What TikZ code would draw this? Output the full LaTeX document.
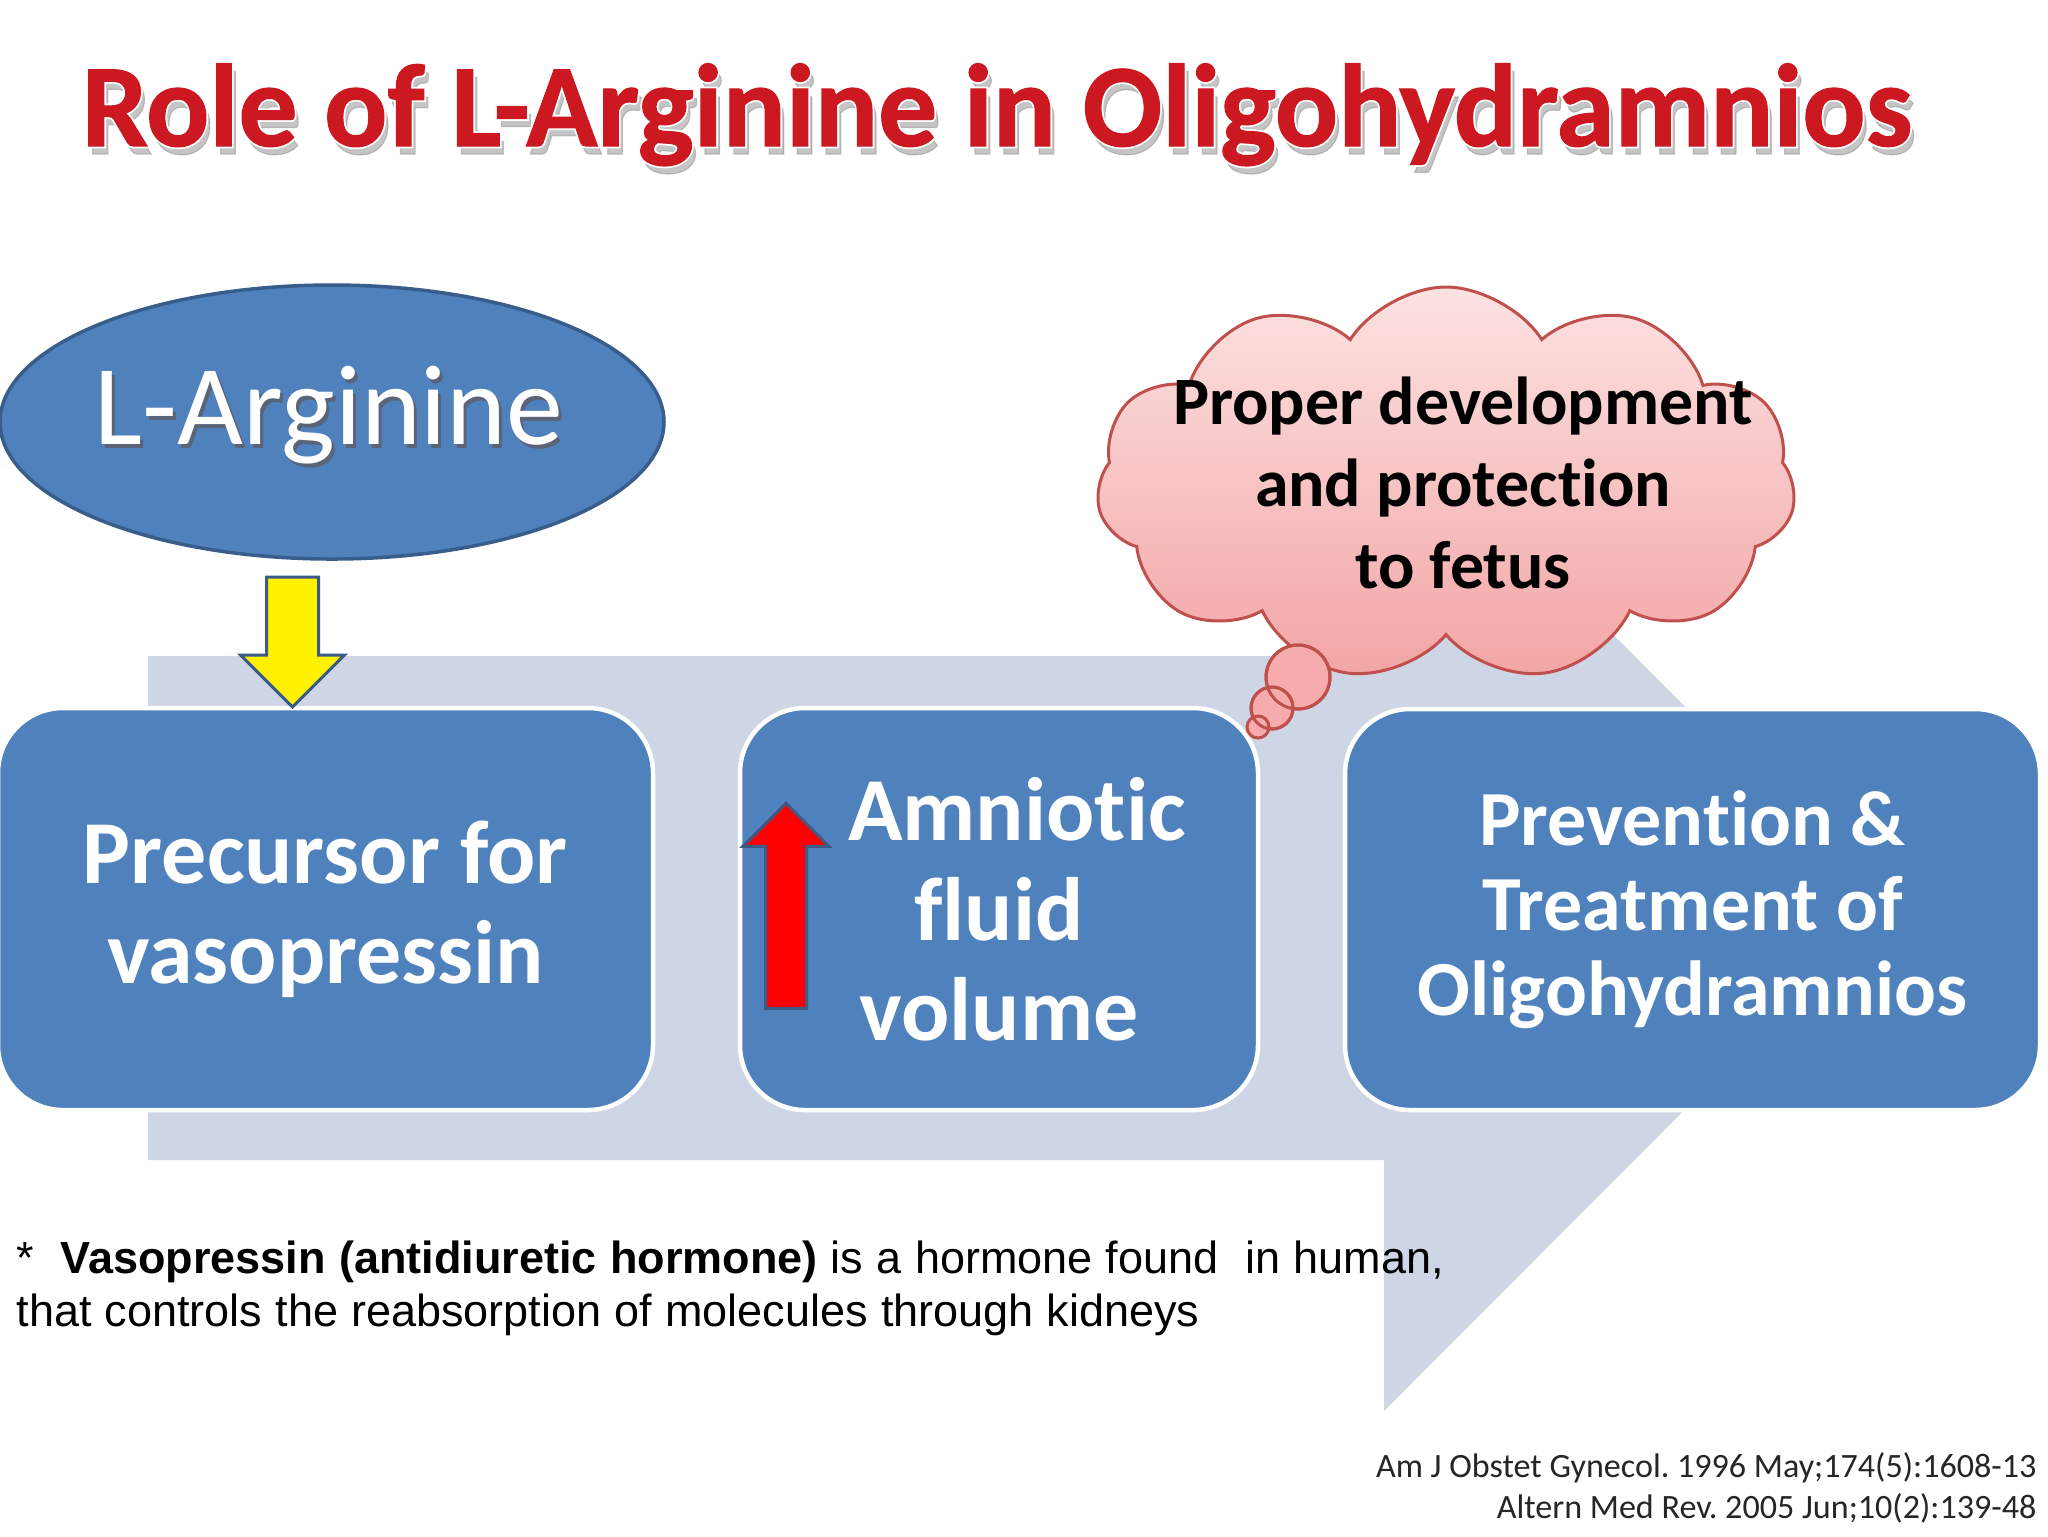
\documentclass[tikz,border=0pt]{standalone}
\usepackage{fontspec}
\setmainfont{Carlito}[Ligatures={NoCommon}]
\newfontfamily\arialfont{Liberation Sans}
\newfontfamily\titlered{Carlito}[Ligatures={NoCommon},BoldFeatures={FakeBold=1}]
\newfontfamily\titlehalo{Carlito}[Ligatures={NoCommon},BoldFeatures={FakeBold=4}]
\usetikzlibrary{shapes.geometric,shapes.symbols,shapes.arrows}
\definecolor{boxblue}{RGB}{79,129,189}
\definecolor{ellborder}{RGB}{56,93,138}
\definecolor{arrowgray}{RGB}{206,213,229}
\definecolor{arrline}{RGB}{59,90,134}
\definecolor{cloudline}{RGB}{192,80,77}
\definecolor{cloudtop}{RGB}{252,226,226}
\definecolor{cloudbot}{RGB}{243,165,165}
\definecolor{bubblefill}{RGB}{246,172,172}
\definecolor{titlecol}{RGB}{204,24,32}
\definecolor{titleshade}{RGB}{150,150,150}
\definecolor{bevel}{RGB}{90,100,120}
\begin{document}
\frenchspacing
\begin{tikzpicture}[x=0.1mm,y=-0.1mm,
  bluebox/.style={draw=white, line width=0.45mm, fill=boxblue, rounded corners=6.5mm,
    text=white, align=center, inner sep=0pt},
  bigtext/.style={font=\fontsize{25.6}{28.5}\selectfont\bfseries},
  midtext/.style={font=\fontsize{22.2}{24.2}\selectfont\bfseries},
  blockarrow/.style={single arrow, draw=arrline, line width=0.3mm, inner xsep=0pt,
    single arrow head indent=0pt},
  bubble/.style={circle, draw=cloudline, line width=0.3mm, fill=bubblefill, inner sep=0pt},
  fnstyle/.style={font=\arialfont\fontsize{12.8}{15}\selectfont, inner sep=0pt, anchor=base west},
  refstyle/.style={font=\fontsize{9.7}{12}\selectfont, inner sep=0pt, anchor=base east, text=black!85}
]
\useasboundingbox (0,0) rectangle (2048,1536);
\fill[white] (0,0) rectangle (2048,1536);

% big background block arrow
\fill[arrowgray] (148,656) -- (1384,656) -- (1384,405) -- (1886,908) -- (1384,1411)
  -- (1384,1160) -- (148,1160) -- cycle;

% title
\node[font=\titlered\bfseries\fontsize{33.5}{36}\selectfont, text=titleshade, opacity=0.55,
  inner sep=0pt, anchor=base] (titlesh) at (1001,154) {Role of L-Arginine in Oligohydramnios};
\node[font=\titlehalo\bfseries\fontsize{33.5}{36}\selectfont, text=white,
  inner sep=0pt, anchor=base] (titlehl) at (997,146) {Role of L-Arginine in Oligohydramnios};
\node[font=\titlered\bfseries\fontsize{33.5}{36}\selectfont, text=titlecol,
  inner sep=0pt, anchor=base] (title) at (997,146) {Role of L-Arginine in Oligohydramnios};

% L-Arginine ellipse
\node[ellipse, draw=ellborder, line width=0.35mm, fill=boxblue, minimum width=66.4mm,
  minimum height=27.4mm, inner sep=0pt] (larg) at (332,422) {};
\node[font=\fontsize{32.4}{36}\selectfont, text=bevel, inner sep=0pt, anchor=base]
  (largsh) at (332,448) {L-Arginine};
\node[font=\fontsize{32.4}{36}\selectfont, text=white, inner sep=0pt, anchor=base]
  (largtxt) at (329,444) {L-Arginine};

% boxes
\node[bluebox, bigtext, minimum width=65.5mm, minimum height=40.2mm] (b1) at (325.5,909)
  {Precursor for\\vasopressin};
\node[bluebox, bigtext, minimum width=51.8mm, minimum height=40.2mm] (b2) at (999,909)
  {\hspace*{3.6mm}Amniotic\\fluid\\volume};
\node[bluebox, midtext, minimum width=69.5mm, minimum height=40.1mm] (b3) at (1692.5,909.5)
  {Prevention \&\\Treatment of\\Oligohydramnios};

% yellow arrow L-Arginine -> precursor
\node[blockarrow, fill=yellow, rotate=-90, inner ysep=2.45mm, minimum height=13mm,
  minimum width=10.1mm, single arrow head extend=2.6mm] (yarr) at (292.5,629) {};

% red up arrow
\node[blockarrow, fill=red, rotate=90, inner ysep=1.9mm, minimum height=20.5mm,
  minimum width=8.3mm, single arrow head extend=2.25mm] (rarr) at (786,916) {};

% cloud
\node[cloud, cloud puffs=11, cloud puff arc=115, cloud ignores aspect, draw=cloudline,
  line width=0.3mm, top color=cloudtop, bottom color=cloudbot, minimum width=69.9mm,
  minimum height=39.4mm, inner sep=0pt] (cloud) at (1446,484) {};
\node[bubble, minimum size=6.4mm] (bb1) at (1298,677) {};
\node[bubble, minimum size=4.2mm] (bb2) at (1272,708) {};
\node[bubble, minimum size=2.2mm] (bb3) at (1258,727) {};
\draw[cloudline, line width=0.3mm] (bb1.center) circle[radius=3.2mm];
\draw[cloudline, line width=0.3mm] (bb2.center) circle[radius=2.1mm];
\node[font=\fontsize{19.3}{23.3}\selectfont\bfseries, align=center, inner sep=0pt]
  (ctext) at (1463,483) {Proper development\\and protection\\to fetus};

% footnote
\node[fnstyle] (fn1) at (16,1273) {\makebox[142.7mm][s]{*\ \ \textbf{Vasopressin (antidiuretic hormone)} is a hormone found\ \ in human,}};
\node[fnstyle] (fn2) at (16,1326) {\makebox[118.3mm][s]{that controls the reabsorption of molecules through kidneys}};

% references
\node[refstyle] (ref1) at (2037,1477) {Am J Obstet Gynecol. 1996 May;174(5):1608-13};
\node[refstyle] (ref2) at (2037,1518) {Altern Med Rev. 2005 Jun;10(2):139-48};
\end{tikzpicture}
\end{document}
